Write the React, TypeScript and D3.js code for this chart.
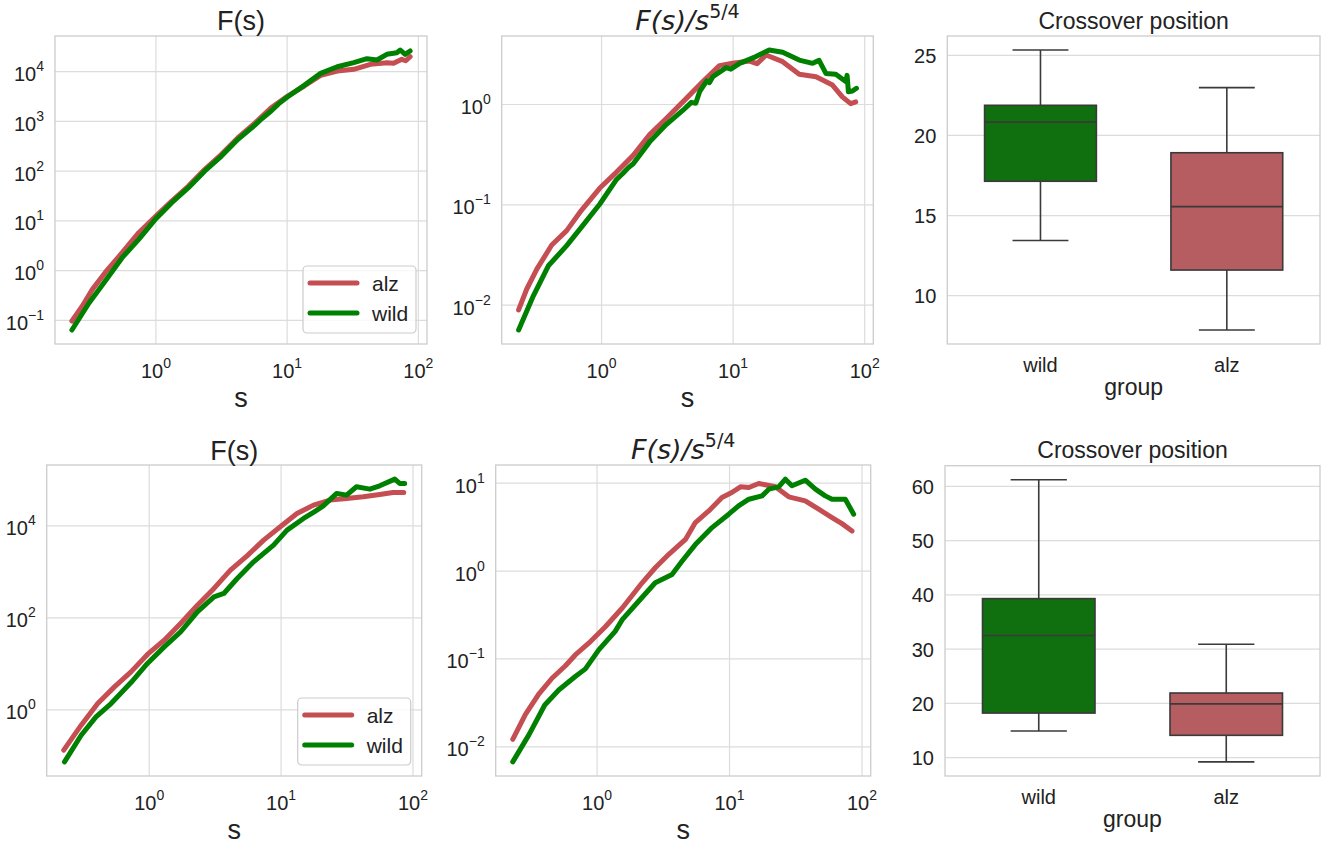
import React from 'react';
import * as d3 from 'd3';

// F(s), top row: [s, F]
const topFsAlz: [number, number][] = [
  [0.229, 0.097], [0.275, 0.194], [0.328, 0.42], [0.414, 0.94], [0.553, 2.29], [0.74, 5.79],
  [1.0, 12.5], [1.32, 25.1], [1.77, 50.1], [2.36, 109], [3.16, 218], [4.22, 471], [5.65, 914],
  [7.55, 1888], [10.1, 3236], [13.5, 5152], [18.0, 8433], [24.1, 10300], [32.2, 11140],
  [43.1, 14030], [57.5, 15170], [64.7, 14720], [74.8, 17700], [80.1, 16600], [86.5, 19950],
];
const topFsWild: [number, number][] = [
  [0.229, 0.064], [0.31, 0.226], [0.402, 0.571], [0.553, 1.82], [0.74, 4.26], [1.0, 11.1],
  [1.32, 23.2], [1.77, 46.6], [2.36, 101], [3.16, 201], [4.22, 437], [5.65, 834], [6.4, 1130],
  [7.55, 1618], [8.6, 2250], [10.1, 3141], [13.5, 5309], [18.0, 9247],
  [24.1, 12590], [32.2, 15170], [40.6, 18240], [48.4, 17180], [57.5, 22340], [68.5, 24100],
  [72.8, 27290], [79.3, 22340], [86.5, 26060],
];

// F(s)/s^{5/4}, top row
const topRatioAlz: [number, number][] = [
  [0.234, 0.00897], [0.27, 0.0145], [0.322, 0.0229], [0.418, 0.0398], [0.543, 0.0553],
  [0.685, 0.0845], [0.97, 0.147], [1.3, 0.212], [1.74, 0.311], [2.32, 0.501], [3.1, 0.724],
  [4.41, 1.15], [5.89, 1.69], [7.87, 2.44], [9.93, 2.57], [13.3, 2.71], [15.2, 2.55],
  [17.8, 3.11], [23.8, 2.67], [31.8, 2.0], [42.7, 1.89], [56.9, 1.56], [67.6, 1.19],
  [78.3, 1.02], [85.5, 1.06],
];
const topRatioWild: [number, number][] = [
  [0.234, 0.00566], [0.303, 0.0124], [0.394, 0.0247], [0.543, 0.0392], [0.726, 0.0631],
  [0.97, 0.102], [1.3, 0.179], [1.45, 0.205], [1.6, 0.235], [1.74, 0.257], [2.32, 0.424],
  [3.1, 0.631], [4.16, 0.877], [4.81, 1.05], [5.2, 1.03], [5.56, 1.34], [6.3, 1.72],
  [6.6, 1.65], [7.01, 1.89], [8.85, 2.33], [9.6, 2.25], [11.2, 2.57], [14.9, 3.0], [18.8, 3.49],
  [23.8, 3.31], [31.8, 2.77], [40.2, 2.57], [45, 2.75], [50.7, 2.04], [60.3, 2.0], [71.8, 1.69],
  [73.5, 1.95], [75.2, 1.34], [80.7, 1.36], [86.5, 1.45],
];

// F(s), bottom row
const botFsAlz: [number, number][] = [
  [0.225, 0.133], [0.305, 0.465], [0.407, 1.37], [0.545, 3.16], [0.728, 6.7], [0.97, 16],
  [1.3, 32.7], [1.73, 75.3], [2.32, 188], [3.1, 435], [4.13, 1086], [5.52, 2228], [7.38, 4875],
  [9.86, 9506], [13.2, 18530], [17.6, 28120], [23.5, 36140], [31.4, 39260], [42, 42660],
  [56, 47970], [70.6, 53090], [85.1, 53090],
];
const botFsWild: [number, number][] = [
  [0.228, 0.0741], [0.305, 0.281], [0.395, 0.705], [0.514, 1.37], [0.728, 3.93], [0.97, 10.2],
  [1.3, 23.4], [1.73, 49.7], [2.32, 135], [3.1, 286], [3.68, 338], [4.65, 716], [6.19, 1648],
  [8.77, 3802], [11.1, 8054], [14.8, 14420], [17.6, 19500], [20.9, 27000], [26.4, 50470],
  [31.4, 46450], [37.3, 70470], [47.1, 62660], [56, 74130], [72.8, 103300], [79.3, 83180],
  [86.5, 83180],
];

// F(s)/s^{5/4}, bottom row
const botRatioAlz: [number, number][] = [
  [0.231, 0.0122], [0.288, 0.0234], [0.363, 0.0398], [0.457, 0.0603], [0.577, 0.0836],
  [0.685, 0.111], [0.865, 0.151], [1.16, 0.234], [1.55, 0.38], [2.19, 0.735], [2.75, 1.09],
  [3.48, 1.55], [4.65, 2.29], [5.52, 3.56], [6.97, 4.83], [8.77, 6.85], [10.4, 7.82],
  [12.1, 9.08], [14, 8.91], [16.6, 9.91], [22.2, 9.08], [28, 6.98], [37.3, 6.28], [47.1, 5.05],
  [59.4, 4.06], [70.6, 3.46], [84.1, 2.86],
];
const botRatioWild: [number, number][] = [
  [0.231, 0.00675], [0.305, 0.0136], [0.403, 0.0299], [0.514, 0.0444], [0.685, 0.0631],
  [0.817, 0.0771], [1.03, 0.127], [1.37, 0.206], [1.55, 0.28], [2.06, 0.453], [2.75, 0.735],
  [3.68, 0.914], [4.39, 1.3], [5.52, 2.0], [7.38, 3.12], [9.86, 4.43], [11.7, 5.51], [14, 6.56],
  [17.6, 7.16], [19.8, 8.53], [23.5, 9.08], [26.4, 11.1], [29.6, 9.33], [37.3, 10.8],
  [44.5, 8.53], [52.8, 7.16], [59.4, 6.56], [74.8, 6.56], [86.5, 4.43],
];

// box plots: [whisker low, q1, median, q3, whisker high]
const groups = ['wild', 'alz'];
const topBoxStats = [
  [13.44, 17.14, 20.83, 21.88, 25.33],
  [7.86, 11.6, 15.56, 18.92, 22.98],
];
const botBoxStats = [
  [14.9, 18.2, 32.5, 39.3, 61.2],
  [9.2, 14.1, 19.9, 21.9, 30.9],
];

const xExpTicks = [0, 1, 2];
const topFsTicks = [-1, 0, 1, 2, 3, 4];
const botFsTicks = [0, 2, 4];
const topRatioTicks = [-2, -1, 0];
const botRatioTicks = [-2, -1, 0, 1];
const topBoxTicks = [10, 15, 20, 25];
const botBoxTicks = [10, 20, 30, 40, 50, 60];

const RED = '#c44e52';
const GREEN = '#008000';
const BOX_FILL = ['#107010', '#b55d60'];
const GRID = '#dcdcdc';
const SPINE = '#cccccc';
const FONT = 'Liberation Sans, Arial, sans-serif';

function logDomain(arrs: [number, number][][], idx: number): [number, number] {
  const vals = arrs.flatMap(a => a.map(d => Math.log10(d[idx])));
  const lo = d3.min(vals) ?? 0, hi = d3.max(vals) ?? 1;
  const m = (hi - lo) * 0.05;
  return [Math.pow(10, lo - m), Math.pow(10, hi + m)];
}

const Pow = ({ exp, ...rest }: any) => (
  <text fontFamily={FONT} fontSize={20} fill="#222" {...rest}>
    <tspan>10</tspan>
    <tspan fontSize={14} dy={-10}>{exp < 0 ? '\u2212' + Math.abs(exp) : exp}</tspan>
  </text>
);

interface LogPanelProps {
  left: number; top: number; right: number; bottom: number;
  alz: [number, number][]; wild: [number, number][];
  yTicks: number[]; title: React.ReactNode; legend?: boolean;
}

const LogPanel = ({ left, top, right, bottom, alz, wild, yTicks, title, legend }: LogPanelProps) => {
  const x = d3.scaleLog().domain(logDomain([alz, wild], 0)).range([left, right]);
  const y = d3.scaleLog().domain(logDomain([alz, wild], 1)).range([bottom, top]);
  const line = d3.line<[number, number]>().x(d => x(d[0])).y(d => y(d[1]));
  return (
    <g>
      {xExpTicks.map(e => (
        <line key={'gx' + e} x1={x(10 ** e)} x2={x(10 ** e)} y1={top} y2={bottom} stroke={GRID} strokeWidth={1.2} />
      ))}
      {yTicks.map(e => (
        <line key={'gy' + e} x1={left} x2={right} y1={y(10 ** e)} y2={y(10 ** e)} stroke={GRID} strokeWidth={1.2} />
      ))}
      <rect x={left} y={top} width={right - left} height={bottom - top} fill="none" stroke={SPINE} strokeWidth={1.3} />
      <path d={line(alz) ?? ''} fill="none" stroke={RED} strokeWidth={5} strokeLinejoin="round" strokeLinecap="round" />
      <path d={line(wild) ?? ''} fill="none" stroke={GREEN} strokeWidth={5} strokeLinejoin="round" strokeLinecap="round" />
      {xExpTicks.map(e => (
        <Pow key={'tx' + e} exp={e} x={x(10 ** e)} y={bottom + 34} textAnchor="middle" />
      ))}
      {yTicks.map(e => (
        <Pow key={'ty' + e} exp={e} x={left - 11} y={y(10 ** e) + 9.5} textAnchor="end" />
      ))}
      <text x={(left + right) / 2} y={bottom + 63} textAnchor="middle" fontFamily={FONT} fontSize={27} fill="#222">s</text>
      {title}
      {legend && (
        <g>
          <rect x={right - 124} y={bottom - 78} width={113} height={67} rx={4} fill="white" fillOpacity={0.8} stroke={SPINE} strokeWidth={1.2} />
          <line x1={right - 117} x2={right - 70} y1={bottom - 61} y2={bottom - 61} stroke={RED} strokeWidth={5} strokeLinecap="round" />
          <line x1={right - 117} x2={right - 70} y1={bottom - 31} y2={bottom - 31} stroke={GREEN} strokeWidth={5} strokeLinecap="round" />
          <text x={right - 55} y={bottom - 53.5} fontFamily={FONT} fontSize={21} fill="#222">alz</text>
          <text x={right - 55} y={bottom - 23.5} fontFamily={FONT} fontSize={21} fill="#222">wild</text>
        </g>
      )}
    </g>
  );
};

const fsTitle = (cx: number, y: number) => (
  <text x={cx} y={y} textAnchor="middle" fontFamily={FONT} fontSize={27} fill="#222">F(s)</text>
);
const ratioTitle = (cx: number, y: number) => (
  <text x={cx} y={y} textAnchor="middle" fontFamily="DejaVu Sans, sans-serif" fontSize={27} fill="#222">
    <tspan fontStyle="italic">F(s)/s</tspan>
    <tspan fontSize={19} dy={-12}>5/4</tspan>
  </text>
);

interface BoxPanelProps {
  left: number; top: number; right: number; bottom: number;
  stats: number[][]; ticks: number[];
}

const BoxPanel = ({ left, top, right, bottom, stats, ticks }: BoxPanelProps) => {
  const lo = d3.min(stats, s => s[0]) ?? 0, hi = d3.max(stats, s => s[4]) ?? 1;
  const m = (hi - lo) * 0.05;
  const y = d3.scaleLinear().domain([lo - m, hi + m]).range([bottom, top]);
  const x = d3.scaleBand().domain(groups).range([left, right]).padding(0);
  const bw = x.bandwidth() * 0.6;
  const edge = '#3a3a3a';
  return (
    <g>
      {ticks.map(t => (
        <line key={'g' + t} x1={left} x2={right} y1={y(t)} y2={y(t)} stroke={GRID} strokeWidth={1.2} />
      ))}
      <rect x={left} y={top} width={right - left} height={bottom - top} fill="none" stroke={SPINE} strokeWidth={1.3} />
      {groups.map((g, i) => {
        const [w0, q1, med, q3, w1] = stats[i];
        const cx = (x(g) ?? 0) + x.bandwidth() / 2;
        return (
          <g key={g}>
            <line x1={cx} x2={cx} y1={y(w1)} y2={y(q3)} stroke={edge} strokeWidth={1.6} />
            <line x1={cx} x2={cx} y1={y(q1)} y2={y(w0)} stroke={edge} strokeWidth={1.6} />
            <line x1={cx - bw / 4} x2={cx + bw / 4} y1={y(w1)} y2={y(w1)} stroke={edge} strokeWidth={1.6} />
            <line x1={cx - bw / 4} x2={cx + bw / 4} y1={y(w0)} y2={y(w0)} stroke={edge} strokeWidth={1.6} />
            <rect x={cx - bw / 2} y={y(q3)} width={bw} height={y(q1) - y(q3)} fill={BOX_FILL[i]} stroke={edge} strokeWidth={1.6} />
            <line x1={cx - bw / 2} x2={cx + bw / 2} y1={y(med)} y2={y(med)} stroke={edge} strokeWidth={1.6} />
            <text x={cx} y={bottom + 28} textAnchor="middle" fontFamily={FONT} fontSize={20} fill="#222">{g}</text>
          </g>
        );
      })}
      {ticks.map(t => (
        <text key={'t' + t} x={left - 11} y={y(t) + 7.5} textAnchor="end" fontFamily={FONT} fontSize={20} fill="#222">{t}</text>
      ))}
      <text x={(left + right) / 2} y={bottom + 51} textAnchor="middle" fontFamily={FONT} fontSize={23} fill="#222">group</text>
      <text x={(left + right) / 2} y={top - 7.5} textAnchor="middle" fontFamily={FONT} fontSize={23} fill="#222">Crossover position</text>
    </g>
  );
};

export default function App() {
  return (
    <svg width={1325} height={845} style={{ position: 'absolute', left: 0, top: 0, background: 'white' }}>
      <LogPanel left={55} top={36} right={427} bottom={344} alz={topFsAlz} wild={topFsWild}
        yTicks={topFsTicks} title={fsTitle(241, 30)} legend />
      <LogPanel left={501.7} top={36} right={873.3} bottom={344} alz={topRatioAlz} wild={topRatioWild}
        yTicks={topRatioTicks} title={ratioTitle(687.5, 30)} />
      <BoxPanel left={947.3} top={36} right={1320} bottom={344} stats={topBoxStats} ticks={topBoxTicks} />
      <LogPanel left={46.7} top={465} right={421.7} bottom={776} alz={botFsAlz} wild={botFsWild}
        yTicks={botFsTicks} title={fsTitle(234.2, 460)} legend />
      <LogPanel left={495.7} top={465} right={870.7} bottom={776} alz={botRatioAlz} wild={botRatioWild}
        yTicks={botRatioTicks} title={ratioTitle(683.2, 459)} />
      <BoxPanel left={945} top={465.7} right={1320} bottom={776} stats={botBoxStats} ticks={botBoxTicks} />
    </svg>
  );
}
